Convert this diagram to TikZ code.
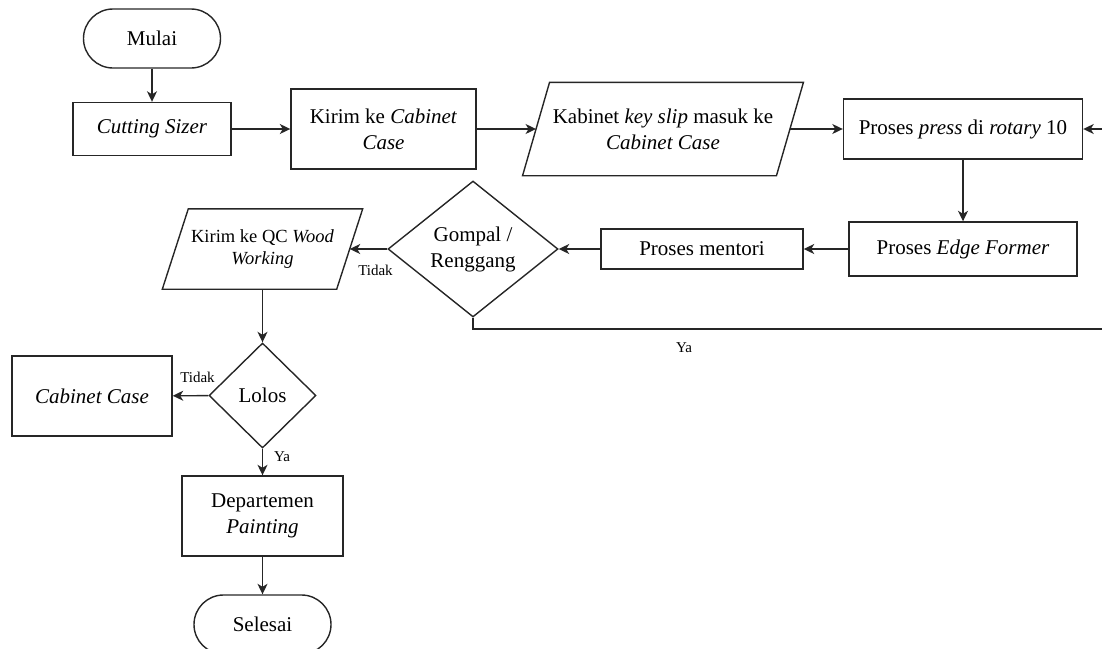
\documentclass[tikz,border=0pt]{standalone}
\usepackage{fontspec}
\setmainfont{Liberation Serif}
\usetikzlibrary{shapes.geometric,arrows.meta,calc}

\begin{document}
\begin{tikzpicture}[x=1pt,y=-1pt,
  every node/.style={font=\fontsize{21}{26}\selectfont, text=black},
  line/.style={draw=black!85, line width=1.4pt},
  arr/.style={line, -{Stealth[length=10.5pt,width=10pt,inset=3pt]}},
  term/.style={line, rectangle, rounded corners=29.5pt, minimum width=137pt,
    minimum height=59pt, inner sep=0pt},
  box/.style={line, rectangle, inner sep=0pt, align=center},
  io/.style={rectangle, inner sep=0pt, align=center},
  dec/.style={line, diamond, inner sep=0pt, align=center},
  lbl/.style={font=\fontsize{15}{18}\selectfont},
]
% page frame
\path[use as bounding box] (0,0) rectangle (1102,648);
\clip (0,0) rectangle (1102,648);

% top row
\node[term] (start) at (152,38.5) {Mulai};
\node[box, minimum width=158pt, minimum height=53pt] (cut) at (152,129) {\textit{Cutting Sizer}};
\node[box, minimum width=185pt, minimum height=80pt] (send) at (383.5,129) {Kirim ke \textit{Cabinet}\\\textit{Case}};
\node[io, minimum width=253.5pt, minimum height=93pt] (slip) at (663,129) {Kabinet \textit{key slip} masuk ke\\\textit{Cabinet Case}};
\draw[line] ($(slip.north west)+(13.5,0)$) -- ($(slip.north east)+(13.5,0)$)
  -- ($(slip.south east)+(-13.5,0)$) -- ($(slip.south west)+(-13.5,0)$) -- cycle;
\node[box, minimum width=239pt, minimum height=60pt] (press) at (963,129) {Proses \textit{press} di \textit{rotary} 10};

% middle row
\node[box, minimum width=228pt, minimum height=54pt] (edge) at (963,249) {Proses \textit{Edge Former}};
\node[box, minimum width=202pt, minimum height=40pt] (ment) at (702,249) {Proses mentori};
\node[dec, minimum width=170pt, minimum height=136pt] (gomp) at (473,249) {Gompal /\\Renggang};
\node[io, minimum width=174pt, minimum height=80pt, font=\fontsize{18.5}{22}\selectfont] (qc) at (262.5,249) {Kirim ke QC \textit{Wood}\\\textit{Working}};
\draw[line] ($(qc.north west)+(13,0)$) -- ($(qc.north east)+(13,0)$)
  -- ($(qc.south east)+(-13,0)$) -- ($(qc.south west)+(-13,0)$) -- cycle;

% lower column
\node[dec, minimum width=107pt, minimum height=105pt] (lolos) at (262.5,395.5) {Lolos};
\node[box, minimum width=160pt, minimum height=80pt] (cab) at (92,396) {\textit{Cabinet Case}};
\node[box, minimum width=161pt, minimum height=80pt] (paint) at (262.5,516) {Departemen\\\textit{Painting}};
\node[term] (end) at (262.5,624.5) {Selesai};

% connectors
\draw[arr] (start) -- (cut);
\draw[arr] (cut) -- (send);
\draw[arr] (send) -- (slip);
\draw[arr] (slip) -- (press);
\draw[arr] (press) -- (edge);
\draw[arr] (edge) -- (ment);
\draw[arr] (ment) -- (gomp);
\draw[arr] (gomp) -- (qc);
\draw[arr] (qc) -- (lolos);
\draw[arr] (lolos) -- (cab);
\draw[arr] (lolos) -- (paint);
\draw[arr] (paint) -- (end);
\coordinate (back) at (1115,329);
\draw[arr] (gomp.south) |- (back) |- (press.east);

% branch labels
\node[lbl] (t1) at (375.5,270) {Tidak};
\node[lbl] (t2) at (197.5,377) {Tidak};
\node[lbl] (y1) at (282,457) {Ya};
\node[lbl] (y2) at (684,348) {Ya};
\end{tikzpicture}
\end{document}
